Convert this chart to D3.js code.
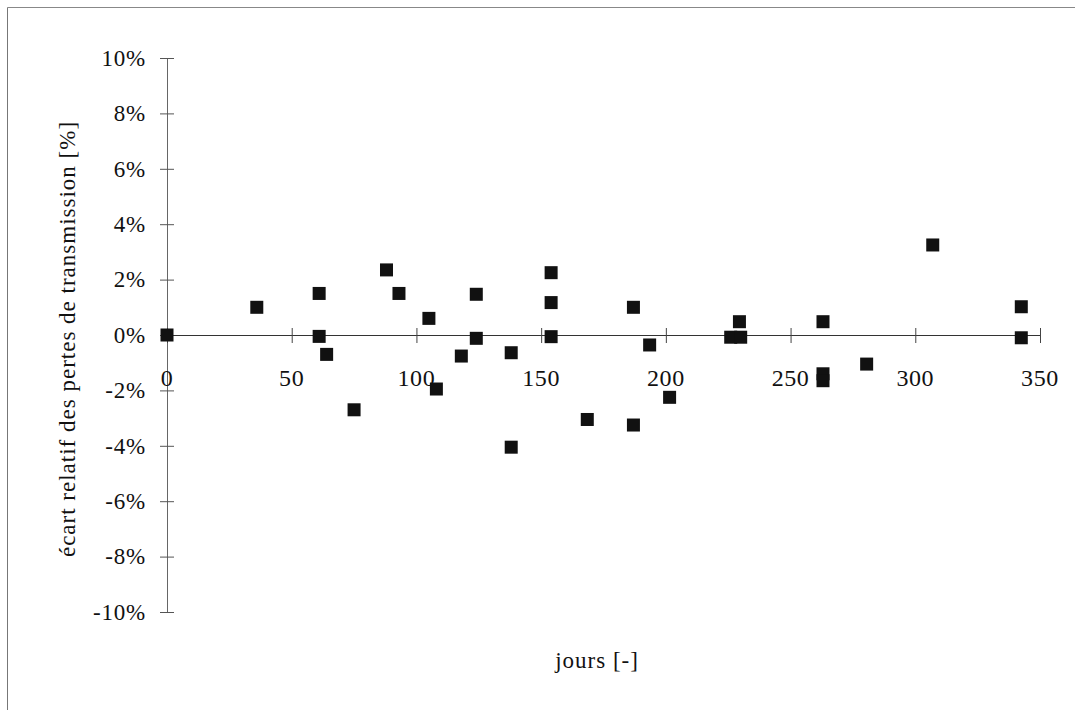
<!DOCTYPE html>
<html>
<head>
<meta charset="utf-8">
<script src="https://cdn.jsdelivr.net/npm/d3@7"></script>
<style>
  body { margin: 0; background: #fff; }
  svg text { font-family: "Liberation Serif", "DejaVu Serif", serif; fill: #111; }
</style>
</head>
<body>
<div id="chart"></div>
<script>
// jours (days) and relative deviation (%)
const days = [0, 36, 61, 61, 64, 75, 88, 93, 105, 108, 118, 124, 124, 138, 138,
  154, 154, 154, 168.5, 187, 187, 193.5, 201.5, 226, 229.5, 230, 263, 263, 263,
  280.5, 307, 342.5, 342.5];
const ecart = [0, 1.0, 1.5, -0.05, -0.7, -2.7, 2.35, 1.5, 0.6, -1.95, -0.76, 1.47, -0.12, -0.64, -4.05,
  2.25, 1.17, -0.06, -3.05, 1.0, -3.25, -0.36, -2.25, -0.08, 0.48, -0.08, 0.48, -1.4, -1.65,
  -1.05, 3.25, 1.02, -0.1];

const xTicks = [0, 50, 100, 150, 200, 250, 300, 350];
const yTicks = [10, 8, 6, 4, 2, 0, -2, -4, -6, -8, -10];

const xTitle = 'jours [-]';
const yTitle = 'écart relatif des pertes de transmission  [%]';

const width = 1075, height = 710;
const svg = d3.select('#chart').append('svg')
  .attr('width', width)
  .attr('height', height);

// scanned page frame (only left and top edges show)
svg.append('line').attr('x1', 7.5).attr('y1', 7.5).attr('x2', width).attr('y2', 7.5)
  .attr('stroke', '#888').attr('stroke-width', 1);
svg.append('line').attr('x1', 7.5).attr('y1', 7.5).attr('x2', 7.5).attr('y2', height)
  .attr('stroke', '#777').attr('stroke-width', 1);

const x = d3.scaleLinear().domain([0, 350]).range([167, 1040]);
const y = d3.scaleLinear().domain([-10, 10]).range([612, 58]);

const fontSize = 23;

// y axis: vertical line with cross ticks (greyish, as on the scan)
const yAxis = svg.append('g').attr('transform', `translate(${x(0)},0)`)
  .call(d3.axisLeft(y).tickValues(yTicks).tickSize(0).tickFormat(''));
yAxis.select('.domain').attr('stroke', '#666').attr('d', `M0.5,${y(10)}V${y(-10)}`);
yAxis.selectAll('.tick line').attr('x1', -7).attr('x2', 7).attr('stroke', '#555');

svg.append('g').selectAll('text')
  .data(yTicks)
  .join('text')
  .attr('x', 146)
  .attr('y', d => y(d))
  .attr('dy', '0.34em')
  .attr('text-anchor', 'end')
  .attr('font-size', fontSize)
  .attr('letter-spacing', 0.8)
  .text(d => d + '%');

// x axis along 0%
const xAxis = svg.append('g').attr('transform', `translate(0,${y(0)})`)
  .call(d3.axisBottom(x).tickValues(xTicks).tickSize(0).tickFormat(''));
xAxis.select('.domain').attr('stroke', '#333').attr('d', `M${x(0)},0.5H${x(350)}`);
xAxis.selectAll('.tick line').attr('y1', -7).attr('y2', 8).attr('stroke', '#444');

svg.append('g').selectAll('text')
  .data(xTicks)
  .join('text')
  .attr('x', d => x(d))
  .attr('y', 386)
  .attr('text-anchor', 'middle')
  .attr('font-size', 24)
  .attr('letter-spacing', 0.6)
  .text(d => d);

// axis titles
svg.append('text')
  .attr('x', 597)
  .attr('y', 668)
  .attr('text-anchor', 'middle')
  .attr('font-size', fontSize)
  .attr('letter-spacing', 1)
  .text(xTitle);

svg.append('text')
  .attr('transform', `translate(75,339) rotate(-90)`)
  .attr('text-anchor', 'middle')
  .attr('font-size', fontSize)
  .attr('letter-spacing', 1)
  .text(yTitle);

// square markers
const size = 13;
svg.append('g').selectAll('rect')
  .data(days.map((d, i) => ({ day: d, v: ecart[i] })))
  .join('rect')
  .attr('x', d => x(d.day) - size / 2)
  .attr('y', d => y(d.v) - size / 2)
  .attr('width', size)
  .attr('height', size)
  .attr('fill', '#111');
</script>
</body>
</html>
